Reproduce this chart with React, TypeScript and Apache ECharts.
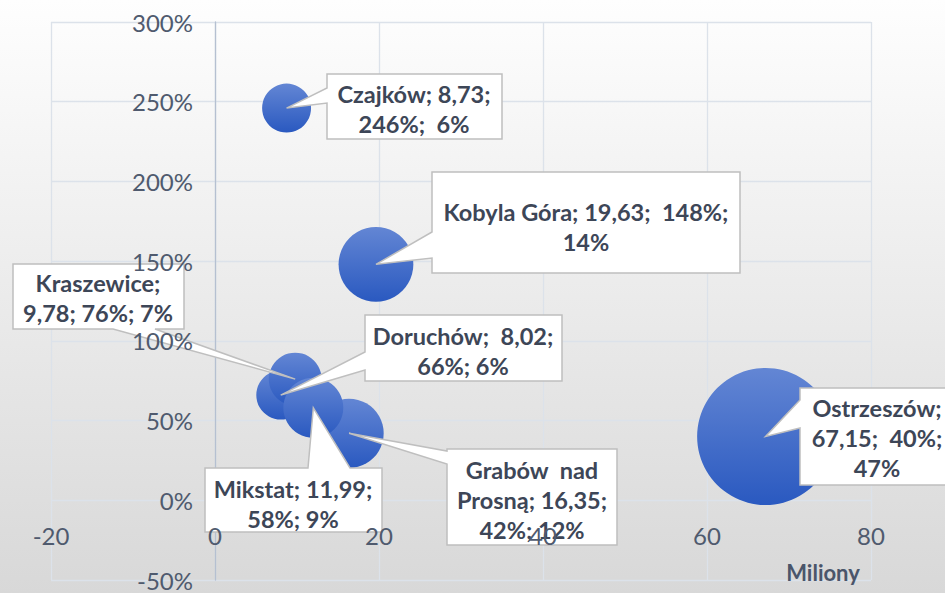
import React, { useEffect, useRef } from 'react';
import * as echarts from 'echarts';

// ---- data (listed in drawing order: background bubbles first) ----
const names = ['Ostrzeszów', 'Kobyla Góra', 'Czajków', 'Grabów nad Prosną', 'Doruchów', 'Kraszewice', 'Mikstat'];
const revenue = [67.15, 19.63, 8.73, 16.35, 8.02, 9.78, 11.99]; // miliony
const growth = [0.4, 1.48, 2.46, 0.42, 0.66, 0.76, 0.58];
const share = [47, 14, 6, 12, 6, 7, 9];
const labelTexts = [
  'Ostrzeszów;\n67,15;  40%;\n47%',
  'Kobyla Góra; 19,63;  148%;\n14%',
  'Czajków; 8,73;\n246%;  6%',
  'Grabów  nad\nProsną; 16,35;\n42%; 12%',
  'Doruchów;  8,02;\n66%; 6%',
  'Kraszewice;\n9,78; 76%; 7%',
  'Mikstat; 11,99;\n58%; 9%',
];
const xMin = -20;
const xMax = 80;
const xStep = 20;
const yMin = -0.5;
const yMax = 3;
const yStep = 0.5;
const xAxisName = 'Miliony';

// ---- layout ----
const GRID = { left: 51, right: 74, top: 22, bottom: 13 };
const CHART_W = 945;
const CHART_H = 593;

type Side = 'left' | 'top' | 'bottom' | 'right';
const callouts: { box: [number, number, number, number]; side: Side; base: [number, number]; tx: number; ty: number }[] = [
  { box: [800, 388, 962, 485], side: 'left', base: [400, 428], tx: 877, ty: 438 },
  { box: [432, 172, 740, 273], side: 'left', base: [232, 258], tx: 586, ty: 227 },
  { box: [327, 74, 502, 139], side: 'left', base: [88, 103], tx: 414, ty: 109 },
  { box: [447, 449, 617, 545], side: 'left', base: [451, 464], tx: 532, ty: 500 },
  { box: [365, 315, 562, 381], side: 'left', base: [352, 370], tx: 463, ty: 351 },
  { box: [13, 264, 184, 329], side: 'bottom', base: [113, 155], tx: 98, ty: 298 },
  { box: [205, 468, 382, 532], side: 'top', base: [308, 350], tx: 293, ty: 504 },
];

const FONT = 'Lato, "Noto Sans", sans-serif';
const MAX_D = 137;
const GRID_COLOR = '#dce2ea';

function calloutPoints(c: (typeof callouts)[number], tip: number[]) {
  const [x0, y0, x1, y1] = c.box;
  const [b0, b1] = c.base;
  const pts: number[][] = [[x0, y0]];
  if (c.side === 'top') pts.push([b0, y0], tip, [b1, y0]);
  pts.push([x1, y0]);
  if (c.side === 'right') pts.push([x1, b0], tip, [x1, b1]);
  pts.push([x1, y1]);
  if (c.side === 'bottom') pts.push([b1, y1], tip, [b0, y1]);
  pts.push([x0, y1]);
  if (c.side === 'left') pts.push([x0, b1], tip, [x0, b0]);
  return pts;
}

export default function App() {
  const ref = useRef<HTMLDivElement>(null);
  useEffect(() => {
    const chart = echarts.init(ref.current!, null, { renderer: 'svg' });
    const maxShare = Math.max(...share);
    const data = names.map((n, i) => ({ name: n, value: [revenue[i], growth[i], share[i]] }));
    const labelStyle = { fontFamily: FONT, fontSize: 24, color: '#4f5a6e' };

    // axes positioned where the other axis has its zero (from the linear scales)
    const plotW = CHART_W - GRID.left - GRID.right;
    const plotH = CHART_H - GRID.top - GRID.bottom;
    const zeroFromLeft = ((0 - xMin) / (xMax - xMin)) * plotW;
    const zeroFromBottom = ((0 - yMin) / (yMax - yMin)) * plotH;

    chart.setOption({
      animation: false,
      backgroundColor: 'transparent',
      grid: { ...GRID, containLabel: false, outerBoundsMode: 'none' },
      xAxis: [
        {
          type: 'value', min: xMin, max: xMax, interval: xStep, position: 'top',
          axisLine: { show: false, onZero: false }, axisTick: { show: false }, axisLabel: { show: false },
          splitLine: { show: true, lineStyle: { color: GRID_COLOR, width: 1.3 } }, z: 0,
        },
        {
          type: 'value', min: xMin, max: xMax, interval: xStep, position: 'bottom', offset: -zeroFromBottom,
          axisLine: { show: false, onZero: false },
          axisTick: { show: false },
          splitLine: { show: false },
          axisLabel: { ...labelStyle, margin: 23 }, z: 20,
        },
      ],
      yAxis: [
        {
          // grid lines and the vertical axis line at x = 0 (under the callouts)
          type: 'value', min: yMin, max: yMax, interval: yStep, position: 'right',
          offset: -(plotW - zeroFromLeft),
          axisLine: { show: true, onZero: false, lineStyle: { color: '#b5c0d1', width: 1.3 } },
          axisTick: { show: false },
          axisLabel: { show: false },
          splitLine: { show: true, lineStyle: { color: GRID_COLOR, width: 1.3 } },
          z: 0,
        },
        {
          // tick labels on top of everything
          type: 'value', min: yMin, max: yMax, interval: yStep, position: 'left',
          offset: -zeroFromLeft,
          axisLine: { show: false, onZero: false },
          axisTick: { show: false },
          axisLabel: { ...labelStyle, margin: 22, formatter: (v: number) => Math.round(v * 100) + '%' },
          splitLine: { show: false },
          z: 20,
        },
      ],
      series: [
        {
          type: 'scatter',
          xAxisIndex: 0,
          yAxisIndex: 0,
          data,
          symbolSize: (v: number[]) => MAX_D * Math.sqrt(v[2] / maxShare),
          itemStyle: {
            opacity: 1,
            color: new echarts.graphic.LinearGradient(0, 0, 0, 1, [
              { offset: 0, color: '#6386d4' },
              { offset: 1, color: '#2a59c0' },
            ]),
          },
          z: 2,
        },
      ],
    });

    const elements: any[] = [];
    names.forEach((n, i) => {
      const tip = chart.convertToPixel({ seriesIndex: 0 }, [revenue[i], growth[i]]) as number[];
      const c = callouts[i];
      elements.push({
        type: 'polygon',
        shape: { points: calloutPoints(c, tip) },
        style: { fill: '#ffffff', stroke: '#bfbfbf', lineWidth: 1.5 },
        z: 10,
      });
      elements.push({
        type: 'text',
        x: c.tx,
        y: c.ty,
        style: {
          text: labelTexts[i],
          textAlign: 'center',
          textVerticalAlign: 'middle',
          fontFamily: FONT,
          fontSize: 23.5,
          fontWeight: 'bold',
          lineHeight: 30,
          fill: '#3d4657',
        },
        z: 11,
      });
    });
    elements.push({
      type: 'text',
      x: 823,
      y: 572,
      style: {
        text: xAxisName,
        textAlign: 'center',
        textVerticalAlign: 'middle',
        fontFamily: FONT,
        fontSize: 22,
        fontWeight: 'bold',
        fill: '#4a556a',
      },
      z: 20,
    });
    chart.setOption({ graphic: { elements } });
    return () => chart.dispose();
  }, []);
  return (
    <div
      ref={ref}
      style={{
        position: 'fixed',
        left: 0,
        top: 0,
        width: CHART_W,
        height: CHART_H,
        background: 'linear-gradient(#fefefe, #d8d8d8)',
      }}
    />
  );
}
